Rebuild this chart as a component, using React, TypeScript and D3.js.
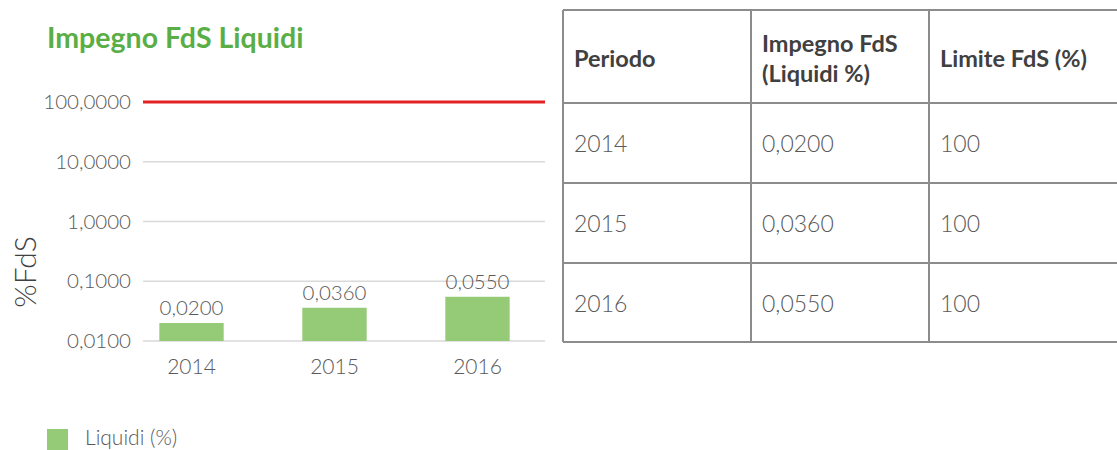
import React from "react";
import * as d3 from "d3";

const categories = ["2014", "2015", "2016"];
const liquidi = [0.02, 0.036, 0.055];
const limite = [100, 100, 100];
const yTicks = [0.01, 0.1, 1, 10, 100];
const tableHeaders = [["Periodo"], ["Impegno FdS", "(Liquidi %)"], ["Limite FdS (%)"]];

const fmt4 = (v: number) => v.toFixed(4).replace(".", ",");

export default function App() {
  const W = 1117, H = 450;
  const font = "Lato, 'Open Sans', sans-serif";
  const textCol = "#595959";
  const y = d3.scaleLog().domain([0.01, 100]).range([341, 102]);
  const x = d3.scaleBand<string>().domain(categories).range([120, 549]).paddingInner(0.55).paddingOuter(0.275);
  const gridX0 = 143, gridX1 = 545;

  const colX = [563, 751, 929, 1125];
  const rowY = [10, 103, 183, 263, 342];

  return (
    <svg width={W} height={H} style={{ position: "absolute", left: 0, top: 0, display: "block" }}>
      <rect width={W} height={H} fill="#fff" />
      <text x={47} y={48} fontFamily={font} fontWeight={700} fontSize={28.5} fill="#5aae46">Impegno FdS Liquidi</text>

      {yTicks.map((t) => (
        <g key={t}>
          {t !== 100 && (
            <line x1={gridX0} x2={gridX1} y1={y(t)} y2={y(t)} stroke="#d9d9d9" strokeWidth={1.5} />
          )}
          <text x={131} y={y(t) + 7} textAnchor="end" fontFamily={font} fontWeight={300} fontSize={20.5} fill={textCol}>{fmt4(t)}</text>
        </g>
      ))}

      {categories.map((c, i) => (
        <g key={c}>
          <rect x={x(c)} y={y(liquidi[i])} width={x.bandwidth()} height={y(0.01) - y(liquidi[i])} fill="#95cb77" />
          <text x={x(c)! + x.bandwidth() / 2} y={y(liquidi[i]) - 8} textAnchor="middle" fontFamily={font} fontWeight={300} fontSize={20.5} fill={textCol}>{fmt4(liquidi[i])}</text>
          <text x={x(c)! + x.bandwidth() / 2} y={374} textAnchor="middle" fontFamily={font} fontWeight={300} fontSize={21} fill={textCol}>{c}</text>
        </g>
      ))}

      <line x1={gridX0} x2={gridX1} y1={y(limite[0])} y2={y(limite[0])} stroke="#e32222" strokeWidth={3} />

      <text transform={`translate(36,272) rotate(-90)`} textAnchor="middle" fontFamily={font} fontWeight={300} fontSize={30} fill="#404040">%FdS</text>

      <rect x={47} y={429} width={21} height={21} fill="#95cb77" />
      <text x={85} y={445} fontFamily={font} fontWeight={300} fontSize={21} fill={textCol}>Liquidi (%)</text>

      {/* table */}
      {rowY.map((ry, i) => (
        <line key={"r" + i} x1={563} x2={W} y1={ry} y2={ry} stroke="#8c8c8c" strokeWidth={2} />
      ))}
      {colX.slice(0, 3).map((cx, i) => (
        <line key={"c" + i} x1={cx} x2={cx} y1={10} y2={342} stroke="#8c8c8c" strokeWidth={2} />
      ))}
      {tableHeaders.map((lines, ci) => (
        <text key={"h" + ci} fontFamily={font} fontWeight={700} fontSize={23.5} fill="#404040">
          {lines.map((l, li) => (
            <tspan key={li} x={colX[ci] + 11} y={(lines.length === 1 ? 67 : 52) + li * 30}>{l}</tspan>
          ))}
        </text>
      ))}
      {categories.map((c, ri) => {
        const cy = (rowY[ri + 1] + rowY[ri + 2]) / 2 + 9;
        const vals = [c, fmt4(liquidi[ri]), String(limite[ri])];
        return vals.map((v, ci) => (
          <text key={ri + "-" + ci} x={colX[ci] + 11} y={cy} fontFamily={font} fontWeight={300} fontSize={23} fill={textCol}>{v}</text>
        ));
      })}
    </svg>
  );
}
